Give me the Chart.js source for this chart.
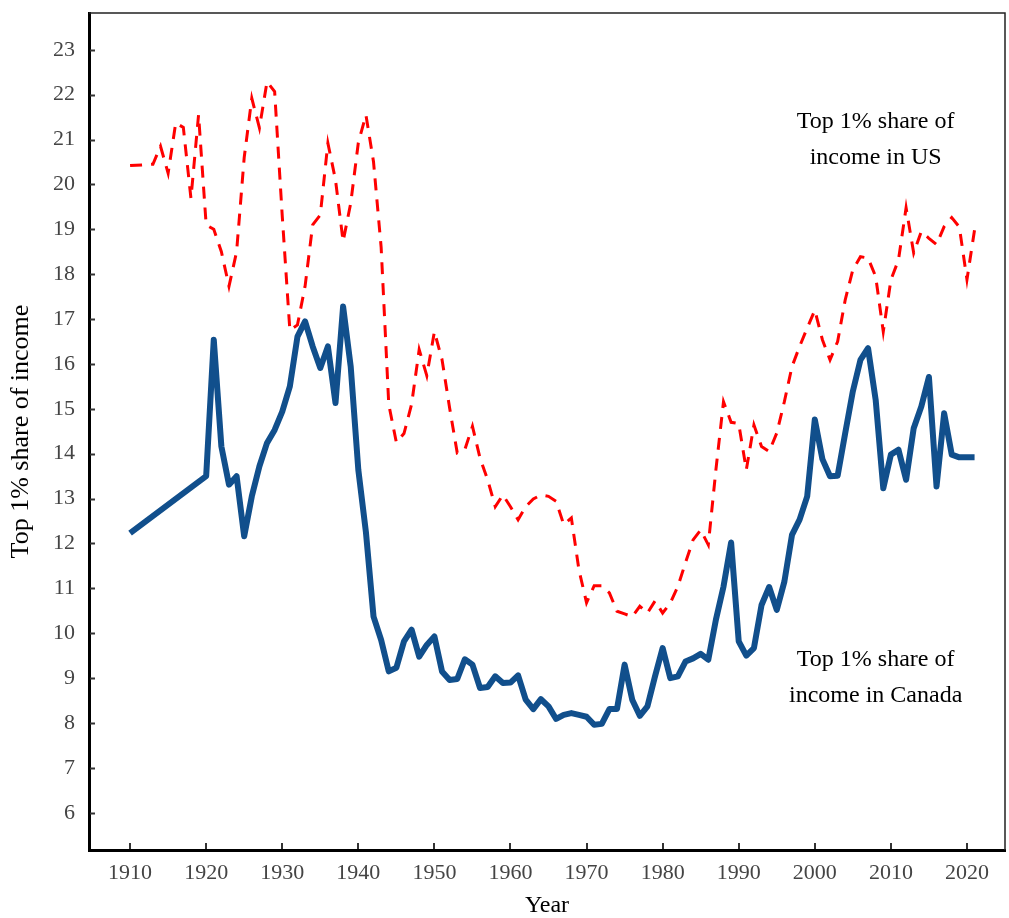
<!DOCTYPE html>
<html>
<head>
<meta charset="utf-8">
<script src="https://cdn.jsdelivr.net/npm/chart.js@4.4.0/dist/chart.umd.min.js"></script>
<style>
html,body{margin:0;padding:0;background:#fff;}
#wrap{width:1009px;height:918px;position:relative;}
</style>
</head>
<body>
<div id="wrap"><canvas id="c"></canvas></div>
<script>
// ---- data ----
const usFirstYears = [1910];
const usFirstShare = [20.42];
const usStartYear = 1913;
const usShare = [
 20.45,20.85,20.25,21.37,21.27,19.69,21.55,19.10,19.00,18.50,
 17.73,18.50,20.60,21.92,21.26,22.29,22.07,19.30,16.75,16.87,
 17.73,19.10,19.32,20.92,20.10,18.73,19.58,20.93,21.55,20.50,
 18.60,15.10,14.25,14.45,15.10,16.32,15.74,16.72,16.10,15.02,
 14.02,14.09,14.61,13.90,13.42,12.82,13.08,12.82,12.53,12.82,
 12.99,13.08,13.05,12.94,12.42,12.57,11.41,10.68,11.06,11.06,
 10.90,10.49,10.43,10.37,10.60,10.45,10.72,10.45,10.67,11.04,
 11.57,12.08,12.30,11.97,13.64,15.16,14.70,14.67,13.64,14.64,
 14.16,14.05,14.46,15.16,15.94,16.39,16.80,17.20,16.54,16.09,
 16.50,17.43,18.10,18.39,18.36,17.95,16.72,17.87,18.32,19.48,
 18.47,18.95,18.80,18.66,19.06,19.26,19.05,17.88,18.99
];
const caFirstYears = [1910, 1920];
const caFirstShare = [12.23, 13.50];
const caStartYear = 1921;
const caShare = [
 16.54,14.16,13.31,13.50,12.16,13.05,13.72,14.24,14.53,14.94,
 15.50,16.61,16.95,16.39,15.91,16.39,15.13,17.28,15.94,13.64,
 12.25,10.37,9.85,9.15,9.23,9.82,10.08,9.48,9.74,9.93,
 9.15,8.96,8.98,9.42,9.30,8.78,8.80,9.04,8.89,8.90,
 9.06,8.52,8.31,8.53,8.37,8.09,8.18,8.22,8.18,8.14,
 7.96,7.98,8.31,8.31,9.30,8.52,8.16,8.37,9.04,9.67,
 9.00,9.04,9.37,9.44,9.54,9.41,10.30,11.04,12.02,9.82,
 9.50,9.67,10.63,11.03,10.52,11.15,12.19,12.53,13.05,14.76,
 13.88,13.50,13.51,14.46,15.39,16.09,16.35,15.20,13.23,13.98,
 14.09,13.42,14.57,15.05,15.71,13.27,14.90,13.98,13.92,13.92,
 13.92
];
const xTickLabels = [1910,1920,1930,1940,1950,1960,1970,1980,1990,2000,2010,2020];
const yTickLabels = [6,7,8,9,10,11,12,13,14,15,16,17,18,19,20,21,22,23];
const notes = [
  {lines:["Top 1% share of","income in US"], x:2008, y:[21.4,20.6]},
  {lines:["Top 1% share of","income in Canada"], x:2008, y:[9.4,8.6]}
];

function series(firstYears, firstVals, startYear, vals){
  const pts = firstYears.map((yr,i)=>({x:yr, y:firstVals[i]}));
  vals.forEach((v,i)=>pts.push({x:startYear+i, y:v}));
  return pts;
}

const frame = {
  id:'frame',
  afterDraw(chart){
    const {ctx, chartArea:a, scales} = chart;
    ctx.save();
    ctx.strokeStyle = '#333';
    ctx.lineWidth = 2;
    scales.y.ticks.forEach(t=>{
      const py = Math.round(scales.y.getPixelForValue(t.value))+0.5;
      ctx.beginPath(); ctx.moveTo(a.left+1, py); ctx.lineTo(a.left+6, py); ctx.stroke();
    });
    scales.x.ticks.forEach(t=>{
      const px = Math.round(scales.x.getPixelForValue(t.value));
      ctx.beginPath(); ctx.moveTo(px, a.bottom-1); ctx.lineTo(px, a.bottom-7); ctx.stroke();
    });
    ctx.strokeStyle = '#222';
    ctx.lineWidth = 1.5;
    ctx.beginPath();
    ctx.moveTo(a.left, a.top); ctx.lineTo(a.right, a.top); ctx.lineTo(a.right, a.bottom);
    ctx.stroke();
    ctx.fillStyle = '#000';
    ctx.font = '24px "Liberation Serif"';
    ctx.textAlign = 'center';
    ctx.textBaseline = 'middle';
    notes.forEach(n=>{
      const px = scales.x.getPixelForValue(n.x);
      n.lines.forEach((s,i)=>ctx.fillText(s, px, scales.y.getPixelForValue(n.y[i])));
    });
    ctx.restore();
  }
};

new Chart(document.getElementById('c'), {
  type:'line',
  data:{
    datasets:[
      {
        label:'US',
        data: series(usFirstYears, usFirstShare, usStartYear, usShare),
        borderColor:'#ff0000',
        borderWidth:3,
        borderDash:[12,9],
        pointRadius:0,
        tension:0,
        fill:false
      },
      {
        label:'Canada',
        data: series(caFirstYears, caFirstShare, caStartYear, caShare),
        borderColor:'#114f8c',
        borderWidth:6,
        borderJoinStyle:'round',
        pointRadius:0,
        tension:0,
        fill:false
      }
    ]
  },
  options:{
    responsive:true,
    maintainAspectRatio:false,
    animation:false,
    events:[],
    layout:{padding:{top:13,right:4,left:0,bottom:0}},
    plugins:{legend:{display:false},tooltip:{enabled:false}},
    scales:{
      x:{
        type:'linear',
        min:1904.6, max:2025,
        afterFit(s){ s.height = 68; s.paddingLeft = 0; s.paddingRight = 0; },
        afterBuildTicks(s){ s.ticks = xTickLabels.map(v=>({value:v})); },
        grid:{display:true, drawOnChartArea:false, drawTicks:false},
        border:{display:true, color:'#000', width:3},
        ticks:{padding:10, color:'#444', font:{family:'"Liberation Serif"', size:22}, callback:v=>String(v), maxRotation:0, autoSkip:false},
        title:{display:true, text:'Year', color:'#000', font:{family:'"Liberation Serif"', size:24, lineHeight:1}, padding:{top:0,bottom:0}}
      },
      y:{
        type:'linear',
        min:5.17, max:23.82,
        afterFit(s){ s.width = 89; s.paddingTop = 0; s.paddingBottom = 0; },
        afterBuildTicks(s){ s.ticks = yTickLabels.map(v=>({value:v})); },
        grid:{display:true, drawOnChartArea:false, drawTicks:false},
        border:{display:true, color:'#000', width:3},
        ticks:{padding:14, color:'#444', font:{family:'"Liberation Serif"', size:22}, autoSkip:false},
        title:{display:true, text:'Top 1% share of income', color:'#000', font:{family:'"Liberation Serif"', size:26, lineHeight:1}, padding:{top:8,bottom:0}}
      }
    }
  },
  plugins:[frame]
});
</script>
</body>
</html>
